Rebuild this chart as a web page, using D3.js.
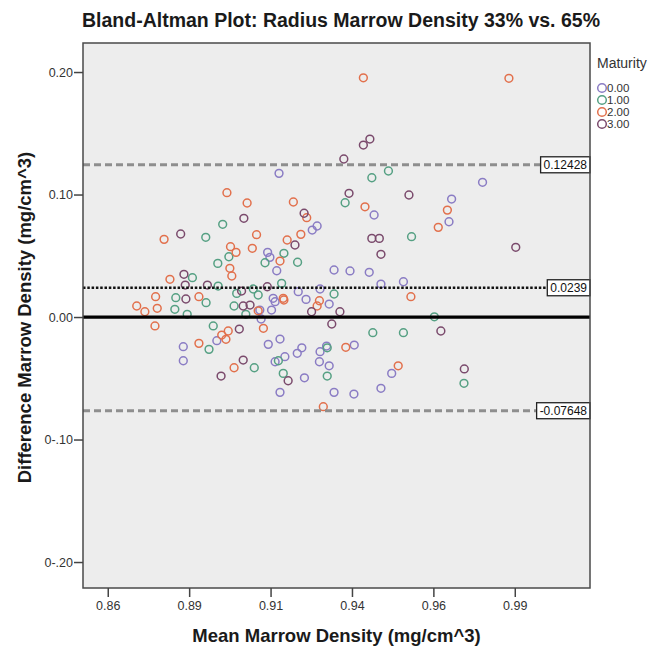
<!DOCTYPE html>
<html>
<head>
<meta charset="utf-8">
<script src="https://cdn.jsdelivr.net/npm/d3@7"></script>
<style>
  html, body { margin: 0; padding: 0; background: #ffffff; }
  svg { display: block; font-family: "Liberation Sans", Arial, sans-serif; }
</style>
</head>
<body>
<svg id="chart" width="660" height="647"></svg>
<script>
// ---------------- DATA ----------------
const title = "Bland-Altman Plot: Radius Marrow Density 33% vs. 65%";
const xTitle = "Mean Marrow Density (mg/cm^3)";
const yTitle = "Difference Marrow Density (mg/cm^3)";
const legendTitle = "Maturity";
const groups = ["0.00", "1.00", "2.00", "3.00"];
const groupColors = ["#8a7cc4", "#55a083", "#e2704c", "#7a4a6c"];

const xTicks = [0.86, 0.885, 0.91, 0.935, 0.96, 0.985];
const xTickLabels = ["0.86", "0.89", "0.91", "0.94", "0.96", "0.99"];
const yTicks = [0.20, 0.10, 0.00, -0.10, -0.20];
const yTickLabels = ["0.20", "0.10", "0.00", "0-.10", "0-.20"];
const xDomain = [0.8524, 1.0081];
const yDomain = [-0.2212, 0.2237];

const meanDiff = 0.0239;
const upperLoA = 0.12428;
const lowerLoA = -0.07648;
const refLabels = ["0.12428", "0.0239", "-0.07648"];

// Maturity 0.00
const mean0 = [0.9126,0.9228,0.9243,0.9091,0.9098,0.9119,0.9295,0.9185,0.9252,0.9108,0.9114,0.9209,0.9280,0.9067,0.9103,0.9071,0.8935,0.8832,0.9093,0.9129,0.9196,0.9182,0.9272,0.9252,0.8832,0.9114,0.9144,0.9250,0.9280,0.9204,0.9129,0.9295,0.9751,0.9656,0.9418,0.9648,0.9344,0.9403,0.9439,0.9508,0.9357,0.9472,0.9356,0.9439];
const diff0 = [0.1173,0.0710,0.0743,0.0528,0.0487,0.0378,0.0384,0.0207,0.0229,0.0153,0.0125,0.0144,0.0106,0.0057,0.0057,-0.0016,-0.0193,-0.0242,-0.0223,-0.0180,-0.0251,-0.0296,-0.0237,-0.0283,-0.0357,-0.0365,-0.0324,-0.0365,-0.0398,-0.0496,-0.0615,-0.0615,0.1100,0.0963,0.0833,0.0778,0.0376,0.0365,0.0269,0.0288,-0.0229,-0.0460,-0.0629,-0.0582];
// Maturity 1.00
const mean1 = [0.8953,0.8901,0.8972,0.9141,0.9083,0.9183,0.8938,0.8860,0.8939,0.9134,0.9047,0.8996,0.9295,0.9062,0.8809,0.8902,0.8806,0.8988,0.8844,0.9024,0.8924,0.8911,0.9274,0.9124,0.9050,0.9139,0.9274,0.9462,0.9411,0.9329,0.9533,0.9603,0.9414,0.9508,0.9694];
const diff1 = [0.0757,0.0651,0.0492,0.0520,0.0443,0.0447,0.0438,0.0321,0.0253,0.0275,0.0229,0.0193,0.0188,0.0180,0.0158,0.0117,0.0063,0.0090,0.0022,0.0022,-0.0073,-0.0264,-0.0251,-0.0357,-0.0414,-0.0460,-0.0482,0.1192,0.1137,0.0933,0.0656,0.0002,-0.0128,-0.0128,-0.0541];
// Maturity 2.00
const mean2 = [0.8966,0.9028,0.9170,0.9211,0.8773,0.9057,0.9193,0.9151,0.8977,0.9044,0.8994,0.9129,0.8975,0.8981,0.8791,0.8747,0.8880,0.9139,0.9141,0.9250,0.8689,0.8714,0.8752,0.9062,0.9243,0.8745,0.9078,0.8970,0.8950,0.8963,0.8880,0.8988,0.9262,0.9385,0.9832,0.9390,0.9643,0.9615,0.9531,0.9331,0.9492];
const diff2 = [0.1015,0.0931,0.0939,0.0811,0.0634,0.0672,0.0675,0.0629,0.0574,0.0561,0.0528,0.0457,0.0398,0.0335,0.0308,0.0166,0.0166,0.0153,0.0139,0.0133,0.0090,0.0043,0.0071,0.0051,0.0090,-0.0073,-0.0092,-0.0114,-0.0147,-0.0182,-0.0215,-0.0414,-0.0732,0.1953,0.1949,0.0900,0.0873,0.0732,0.0166,-0.0247,-0.0398];
// Maturity 3.00
const mean3 = [0.9203,0.9018,0.8824,0.9175,0.8834,0.8838,0.8906,0.9090,0.9011,0.8840,0.9016,0.9037,0.9226,0.9313,0.9004,0.9288,0.9016,0.8948,0.9154,0.9405,0.9385,0.9325,0.9341,0.9525,0.9411,0.9434,0.9853,0.9439,0.9623,0.9695];
const diff3 = [0.0847,0.0806,0.0678,0.0588,0.0349,0.0261,0.0261,0.0247,0.0212,0.0147,0.0090,0.0098,0.0043,0.0043,-0.0098,-0.0057,-0.0351,-0.0482,-0.0520,0.1453,0.1404,0.1290,0.1010,0.0996,0.0642,0.0642,0.0569,0.0512,-0.0114,-0.0424];

const seriesMeans = [mean0, mean1, mean2, mean3];
const seriesDiffs = [diff0, diff1, diff2, diff3];

// ---------------- LAYOUT ----------------
const plot = { left: 83, top: 43, right: 590, bottom: 588 };
const svg = d3.select("#chart");

const x = d3.scaleLinear().domain(xDomain).range([plot.left, plot.right]);
const y = d3.scaleLinear().domain(yDomain).range([plot.bottom, plot.top]);

svg.append("rect")
  .attr("x", plot.left).attr("y", plot.top)
  .attr("width", plot.right - plot.left).attr("height", plot.bottom - plot.top)
  .attr("fill", "#ededed");

const points = [];
seriesMeans.forEach((ms, g) => ms.forEach((m, i) => points.push({ g, m, d: seriesDiffs[g][i] })));
svg.append("g").selectAll("circle").data(points).join("circle")
  .attr("cx", d => x(d.m)).attr("cy", d => y(d.d)).attr("r", 3.9)
  .attr("fill", "none").attr("stroke", d => groupColors[d.g]).attr("stroke-width", 1.5);

function hline(v, color, width, dash) {
  svg.append("line")
    .attr("x1", plot.left).attr("x2", plot.right)
    .attr("y1", y(v)).attr("y2", y(v))
    .attr("stroke", color).attr("stroke-width", width)
    .attr("stroke-dasharray", dash);
}
hline(upperLoA, "#8e8e8e", 3, "7,4");
hline(lowerLoA, "#8e8e8e", 3, "7,4");
hline(meanDiff, "#111", 2.6, "2.5,1.8");
hline(0, "#000", 3.2, null);

[upperLoA, meanDiff, lowerLoA].forEach((v, i) => {
  const gL = svg.append("g");
  const t = gL.append("text")
    .attr("x", plot.right - 3).attr("y", y(v) + 4.3)
    .attr("text-anchor", "end").attr("font-size", 12).attr("fill", "#111")
    .text(refLabels[i]);
  const w = t.node().getComputedTextLength();
  gL.insert("rect", "text")
    .attr("x", plot.right - w - 6).attr("y", y(v) - 8)
    .attr("width", w + 6).attr("height", 16)
    .attr("fill", "#fff").attr("stroke", "#222").attr("stroke-width", 1.3);
});

svg.append("rect")
  .attr("x", plot.left).attr("y", plot.top)
  .attr("width", plot.right - plot.left).attr("height", plot.bottom - plot.top)
  .attr("fill", "none").attr("stroke", "#4a4a4a").attr("stroke-width", 1.5);

const xAxis = d3.axisBottom(x).tickValues(xTicks)
  .tickFormat((d, i) => xTickLabels[i]).tickSize(9).tickPadding(4);
const gx = svg.append("g").attr("transform", `translate(0,${plot.bottom})`).call(xAxis);
gx.select(".domain").remove();
gx.selectAll("line").attr("stroke", "#444").attr("stroke-width", 1.5);
gx.selectAll("text").attr("font-size", 12.5).attr("fill", "#333")
  .attr("font-family", "'Liberation Sans', Arial, sans-serif");

const yAxis = d3.axisLeft(y).tickValues(yTicks)
  .tickFormat((d, i) => yTickLabels[i]).tickSize(9).tickPadding(1);
const gy = svg.append("g").attr("transform", `translate(${plot.left},0)`).call(yAxis);
gy.select(".domain").remove();
gy.selectAll("line").attr("stroke", "#444").attr("stroke-width", 1.5);
gy.selectAll("text").attr("font-size", 12.5).attr("fill", "#333")
  .attr("font-family", "'Liberation Sans', Arial, sans-serif");

svg.append("text").attr("x", 341).attr("y", 27)
  .attr("text-anchor", "middle").attr("font-size", 19.5).attr("font-weight", "bold")
  .attr("fill", "#1a1a1a").text(title);
svg.append("text").attr("x", (plot.left + plot.right) / 2).attr("y", 642)
  .attr("text-anchor", "middle").attr("font-size", 18.5).attr("font-weight", "bold")
  .attr("fill", "#1a1a1a").text(xTitle);
svg.append("text")
  .attr("transform", `translate(31,${(plot.top + plot.bottom) / 2 + 2}) rotate(-90)`)
  .attr("text-anchor", "middle").attr("font-size", 18.5).attr("font-weight", "bold")
  .attr("fill", "#1a1a1a").text(yTitle);

const lg = svg.append("g");
lg.append("text").attr("x", 597).attr("y", 68).attr("font-size", 14).attr("fill", "#333").text(legendTitle);
groups.forEach((gname, i) => {
  const cy = 88 + i * 12;
  lg.append("circle").attr("cx", 602).attr("cy", cy).attr("r", 4.3)
    .attr("fill", "none").attr("stroke", groupColors[i]).attr("stroke-width", 1.5);
  lg.append("text").attr("x", 607).attr("y", cy + 4.2).attr("font-size", 11.5)
    .attr("fill", "#333").text(gname);
});
</script>
</body>
</html>
